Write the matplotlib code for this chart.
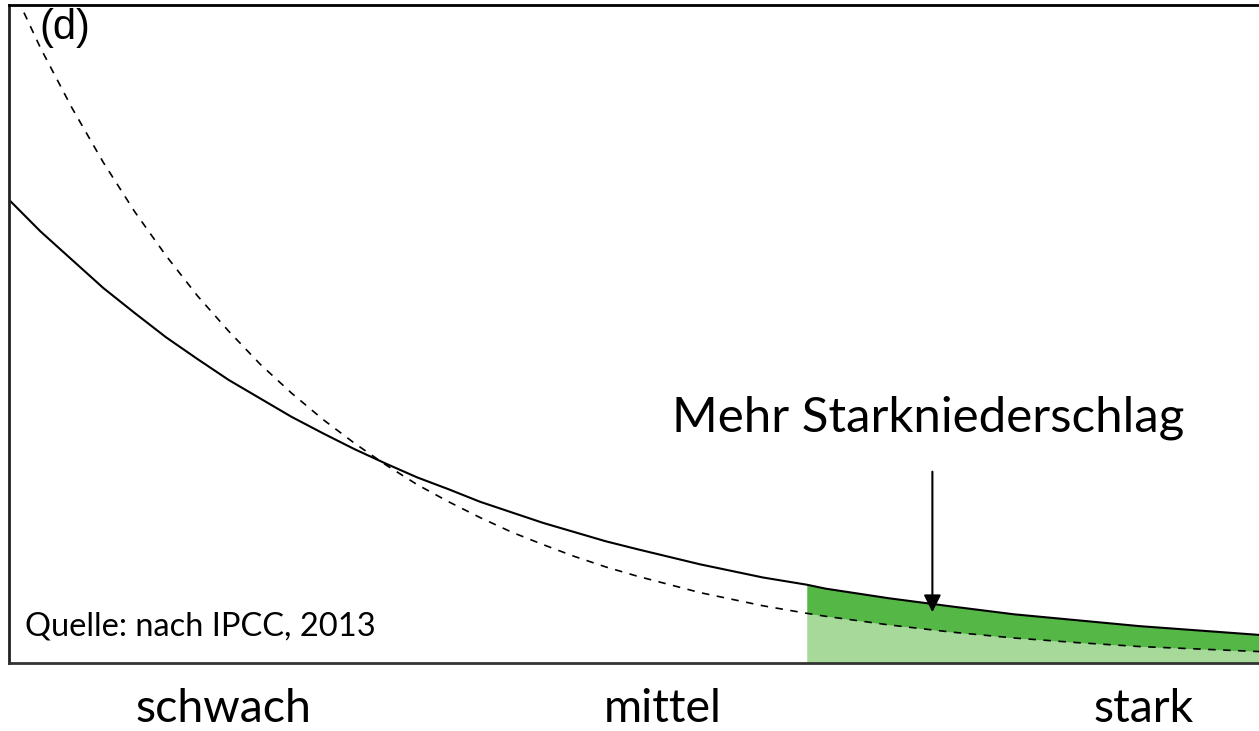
import matplotlib.pyplot as plt

# Schematic: precipitation intensity distribution (y in % of axes height)
x_pos = [0, 2.5, 5, 7.5, 10, 12.5, 15, 17.5, 20, 22.5, 25, 27.5, 30, 32.5, 35, 37.5, 40, 42.5,
         45, 47.5, 50, 55, 60, 63.5, 65, 70, 75, 80, 85, 90, 95, 100]
today = [70.4, 65.6, 61.3, 57.0, 53.2, 49.5, 46.2, 43.0, 40.2, 37.4, 34.9, 32.5, 30.3, 28.2,
         26.4, 24.5, 22.9, 21.3, 19.9, 18.5, 17.3, 15.0, 13.0, 11.9, 11.3, 9.85, 8.6, 7.4,
         6.5, 5.6, 4.9, 4.2]
before = [103.7, 93.5, 84.4, 76.1, 68.6, 61.9, 55.8, 50.4, 45.4, 41.0, 37.0, 33.4, 30.1, 27.1,
          24.5, 22.1, 19.9, 18.0, 16.2, 14.6, 13.2, 10.7, 8.7, 7.55, 7.1, 5.8, 4.7, 3.8,
          3.1, 2.5, 2.1, 1.7]
heavy_start = 63.5
cat_labels = ["schwach", "mittel", "stark"]
cat_pos = [17.1, 52.0, 90.3]

plt.rcParams["font.family"] = ["Lato", "DejaVu Sans"]

fig = plt.figure(figsize=(12.59, 7.31), dpi=100)
ax = fig.add_axes([9/1259, 1 - 663/731, 1 - 9/1259 + 0.01, 658/731])

# shaded heavy precipitation area
sel = [i for i, x in enumerate(x_pos) if x >= heavy_start]
xs = [x_pos[i] for i in sel]
ax.fill_between(xs, 0, [before[i] for i in sel], color="#a6d99a", lw=0)
ax.fill_between(xs, [before[i] for i in sel], [today[i] for i in sel], color="#55b846", lw=0)

ax.plot(x_pos, today, color="black", lw=1.5)
ax.plot(x_pos, before, color="black", lw=1.2, ls=(0, (4.5, 4.5)))

ax.set_xlim(0, 100.5)
ax.set_ylim(0, 100)
ax.set_xticks([])
ax.set_yticks([])
for s in ["left", "top", "bottom"]:
    ax.spines[s].set_linewidth(2)
ax.spines["left"].set_color("#222222")
ax.spines["bottom"].set_color("#333333")
ax.spines["right"].set_visible(False)

ax.text(2.4, 99.5, "(d)", fontsize=30, family="Liberation Sans", va="top", ha="left")
ax.text(1.3, 5.5, "Quelle: nach IPCC, 2013", fontsize=23.5, va="center", ha="left")
ax.text(73.2, 37.3, "Mehr Starkniederschlag", fontsize=35.5, va="center", ha="center")
ax.annotate("", xy=(73.5, 7.3), xytext=(73.5, 29.5),
            arrowprops=dict(arrowstyle="-|>", color="black", lw=1.5, mutation_scale=26))

for lab, p in zip(cat_labels, cat_pos):
    ax.text(p, -8.9, lab, fontsize=33.5, va="baseline", ha="center", clip_on=False)

fig.savefig("out.png", dpi=100)
